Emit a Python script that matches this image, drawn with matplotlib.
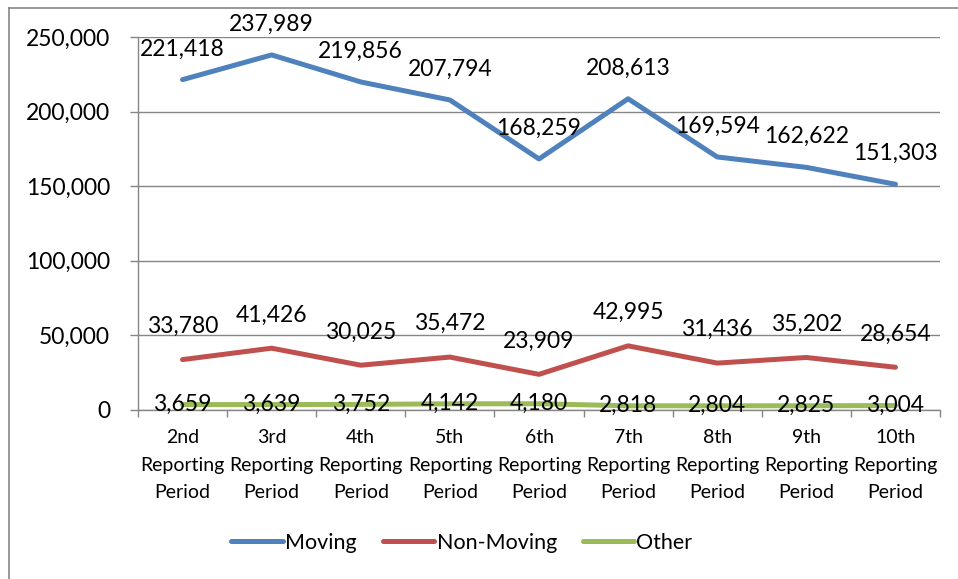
import matplotlib.pyplot as plt
from matplotlib.lines import Line2D

plt.rcParams['font.family'] = ['Lato', 'DejaVu Sans']

# data
periods = ['2nd\nReporting\nPeriod', '3rd\nReporting\nPeriod', '4th\nReporting\nPeriod',
           '5th\nReporting\nPeriod', '6th\nReporting\nPeriod', '7th\nReporting\nPeriod',
           '8th\nReporting\nPeriod', '9th\nReporting\nPeriod', '10th\nReporting\nPeriod']
moving = [221418, 237989, 219856, 207794, 168259, 208613, 169594, 162622, 151303]
non_moving = [33780, 41426, 30025, 35472, 23909, 42995, 31436, 35202, 28654]
other = [3659, 3639, 3752, 4142, 4180, 2818, 2804, 2825, 3004]

series = [('Moving', moving, '#4F81BD', 22),
          ('Non-Moving', non_moving, '#C0504D', 24),
          ('Other', other, '#9BBB59', 0)]

W, H = 958, 579
fig = plt.figure(figsize=(W / 100, H / 100), dpi=100)
ax = fig.add_axes([138 / W, 1 - 410 / H, (940 - 138) / W, (410 - 37) / H])

x = list(range(len(periods)))
grid_col = '#868686'

for name, vals, col, off in series:
    ax.plot(x, vals, color=col, lw=3.6, solid_capstyle='round',
            solid_joinstyle='round', label=name, zorder=3)
    for xi, v in zip(x, vals):
        ax.annotate(f'{v:,}', (xi, v), xytext=(0, off), textcoords='offset points',
                    ha='center', va='center', fontsize=16.5, color='black',
                    zorder=4, annotation_clip=False)

ax.set_xlim(-0.5, len(periods) - 0.5)
ax.set_ylim(0, 250000)
ax.set_yticks(range(0, 250001, 50000))
ax.set_yticklabels([f'{v:,}' for v in range(0, 250001, 50000)], fontsize=16.5)
ax.set_xticks(x)
ax.set_xticklabels(periods, fontsize=14, linespacing=1.72)
ax.set_xticks([i - 0.5 for i in range(len(periods) + 1)], minor=True)
ax.tick_params(axis='x', which='major', length=0, pad=14)
ax.tick_params(axis='x', which='minor', length=5, color=grid_col, width=1)
ax.tick_params(axis='y', length=6, color=grid_col, width=1, pad=14)

ax.grid(axis='y', color=grid_col, lw=1)
ax.set_axisbelow(True)
for s in ['top', 'right']:
    ax.spines[s].set_visible(False)
for s in ['left', 'bottom']:
    ax.spines[s].set_color(grid_col)
    ax.spines[s].set_linewidth(1)

handles, labels = ax.get_legend_handles_labels()
fig.legend(handles, labels, loc='center', bbox_to_anchor=(462 / W, 1 - 543 / H),
           ncol=3, frameon=False, fontsize=15.5, handlelength=2.4,
           handletextpad=0.1, columnspacing=1.2)

# chart border (top and left visible only)
fig.add_artist(Line2D([9 / W, 1], [1 - 8 / H] * 2, color='#868686', lw=1.2))
fig.add_artist(Line2D([9 / W] * 2, [0, 1 - 8 / H], color='#868686', lw=1.2))

fig.savefig('out.png', dpi=100)
